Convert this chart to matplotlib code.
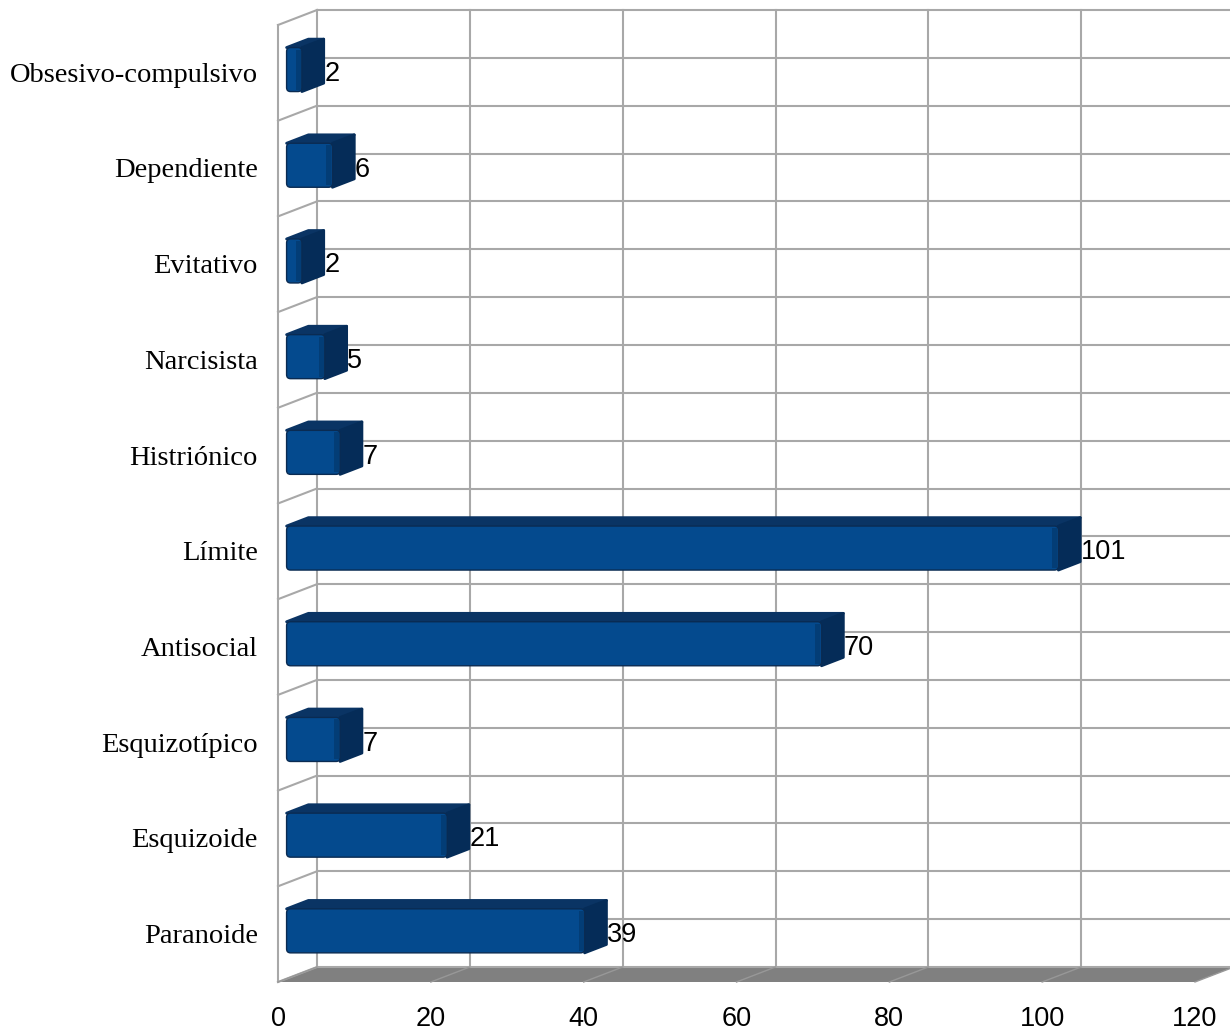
import matplotlib
matplotlib.use("Agg")
import matplotlib.pyplot as plt
from matplotlib.patches import Polygon, FancyBboxPatch, Rectangle

# Datos (de abajo hacia arriba)
categorias = ["Paranoide", "Esquizoide", "Esquizotípico", "Antisocial", "Límite",
              "Histriónico", "Narcisista", "Evitativo", "Dependiente", "Obsesivo-compulsivo"]
valores = [39, 21, 7, 70, 101, 7, 5, 2, 6, 2]
ticks_x = [0, 20, 40, 60, 80, 100, 120]

# Colores
COLOR_FRENTE = "#044a8e"
COLOR_SOMBRA = "#033d76"
COLOR_ARRIBA = "#0a3464"
COLOR_LADO = "#052c58"
COLOR_BORDE = "#0a2b52"
COLOR_GRID = "#a8a8a8"
COLOR_PISO = "#808080"

# Geometria de la proyeccion 3D (unidades de datos)
PX_X = 917 / 120.0      # pixeles por unidad de valor
PX_Y = 95.7             # pixeles por categoria
DX = 39 / PX_X          # desplazamiento en x por profundidad
DY = 15 / PX_Y          # desplazamiento en y por profundidad
D0, D1 = 0.22, 0.78     # profundidad de la barra
ALTO = 0.46             # alto de la barra (en categorias)
VMAX = 120
N = len(categorias)


def px(v, d):
    return v + d * DX


def py(c, d):
    return c + d * DY


fig = plt.figure(figsize=(12.3, 10.34), dpi=100)
ax = fig.add_axes([0, 0, 1, 1])
ax.set_xlim(-278 / PX_X, (1230 - 278) / PX_X)
ax.set_ylim(-0.5 - 52 / PX_Y, -0.5 + 982 / PX_Y)
ax.axis("off")

# Piso
piso = Polygon([(px(0, 0), py(-0.5, 0)), (px(VMAX, 0), py(-0.5, 0)),
                (px(VMAX, 1), py(-0.5, 1)), (px(0, 1), py(-0.5, 1))],
               closed=True, facecolor=COLOR_PISO, edgecolor="none", zorder=1)
ax.add_patch(piso)
for t in ticks_x:
    ax.plot([px(t, 0), px(t, 1)], [py(-0.5, 0), py(-0.5, 1)],
            color="#989898", lw=1.0, zorder=1.5)

# Pared del fondo: lineas verticales
for t in ticks_x:
    ax.plot([px(t, 1), px(t, 1)], [py(-0.5, 1), py(N - 0.5, 1)],
            color=COLOR_GRID, lw=1.5, zorder=1)
# Pared del fondo: lineas horizontales cada media categoria
for k in range(2 * N + 1):
    c = -0.5 + k * 0.5
    ax.plot([px(0, 1), px(VMAX + 2, 1)], [py(c, 1), py(c, 1)],
            color=COLOR_GRID, lw=1.5, zorder=1)

# Pared izquierda
ax.plot([px(0, 0), px(0, 0)], [py(-0.5, 0), py(N - 0.5, 0)],
        color=COLOR_GRID, lw=1.5, zorder=1)
for k in range(N + 1):
    c = -0.5 + k
    ax.plot([px(0, 0), px(0, 1)], [py(c, 0), py(c, 1)],
            color=COLOR_GRID, lw=1.5, zorder=1)

# Barras
r = 4 / PX_X
aspecto = PX_X / PX_Y
for i, v in enumerate(valores):
    y0 = i - ALTO / 2
    y1 = i + ALTO / 2
    arriba = Polygon([(px(0, D0), py(y1, D0)), (px(v, D0), py(y1, D0)),
                      (px(v, D1), py(y1, D1)), (px(0, D1), py(y1, D1))],
                     closed=True, facecolor=COLOR_ARRIBA, edgecolor=COLOR_ARRIBA,
                     lw=2, joinstyle="round", zorder=3)
    lado = Polygon([(px(v, D0), py(y0, D0)), (px(v, D0), py(y1, D0)),
                    (px(v, D1), py(y1, D1)), (px(v, D1), py(y0, D1))],
                   closed=True, facecolor=COLOR_LADO, edgecolor=COLOR_LADO,
                   lw=2, joinstyle="round", zorder=3)
    ax.add_patch(arriba)
    ax.add_patch(lado)
    frente = FancyBboxPatch((px(0, D0), py(y0, D0)), v, ALTO,
                            boxstyle="round,pad=0,rounding_size=%f" % r,
                            mutation_aspect=aspecto,
                            facecolor=COLOR_FRENTE, edgecolor=COLOR_BORDE,
                            lw=1, zorder=4)
    ax.add_patch(frente)
    # sombreado en el borde derecho del frente
    sombra = Rectangle((px(v, D0) - 6 / PX_X, py(y0, D0) + 2 / PX_Y),
                       5 / PX_X, ALTO - 4 / PX_Y,
                       facecolor=COLOR_SOMBRA, edgecolor="none", zorder=4.5)
    ax.add_patch(sombra)
    ax.text(px(v, D1) + 0.1, py(i, D0) - 0.045, str(v), ha="left", va="center",
            fontsize=19.5, family="Liberation Sans", color="black", zorder=5)

# Etiquetas de categorias
for i, nombre in enumerate(categorias):
    ax.text(-20 / PX_X, i - 0.025, nombre, ha="right", va="center",
            fontsize=20.5, family="Liberation Serif", color="black")

# Etiquetas del eje de valores
for t in ticks_x:
    ax.text(t, -0.5 - 37 / PX_Y, str(t), ha="center", va="center",
            fontsize=19.5, family="Liberation Sans", color="black")

fig.savefig("out.png", dpi=100, facecolor="white")
